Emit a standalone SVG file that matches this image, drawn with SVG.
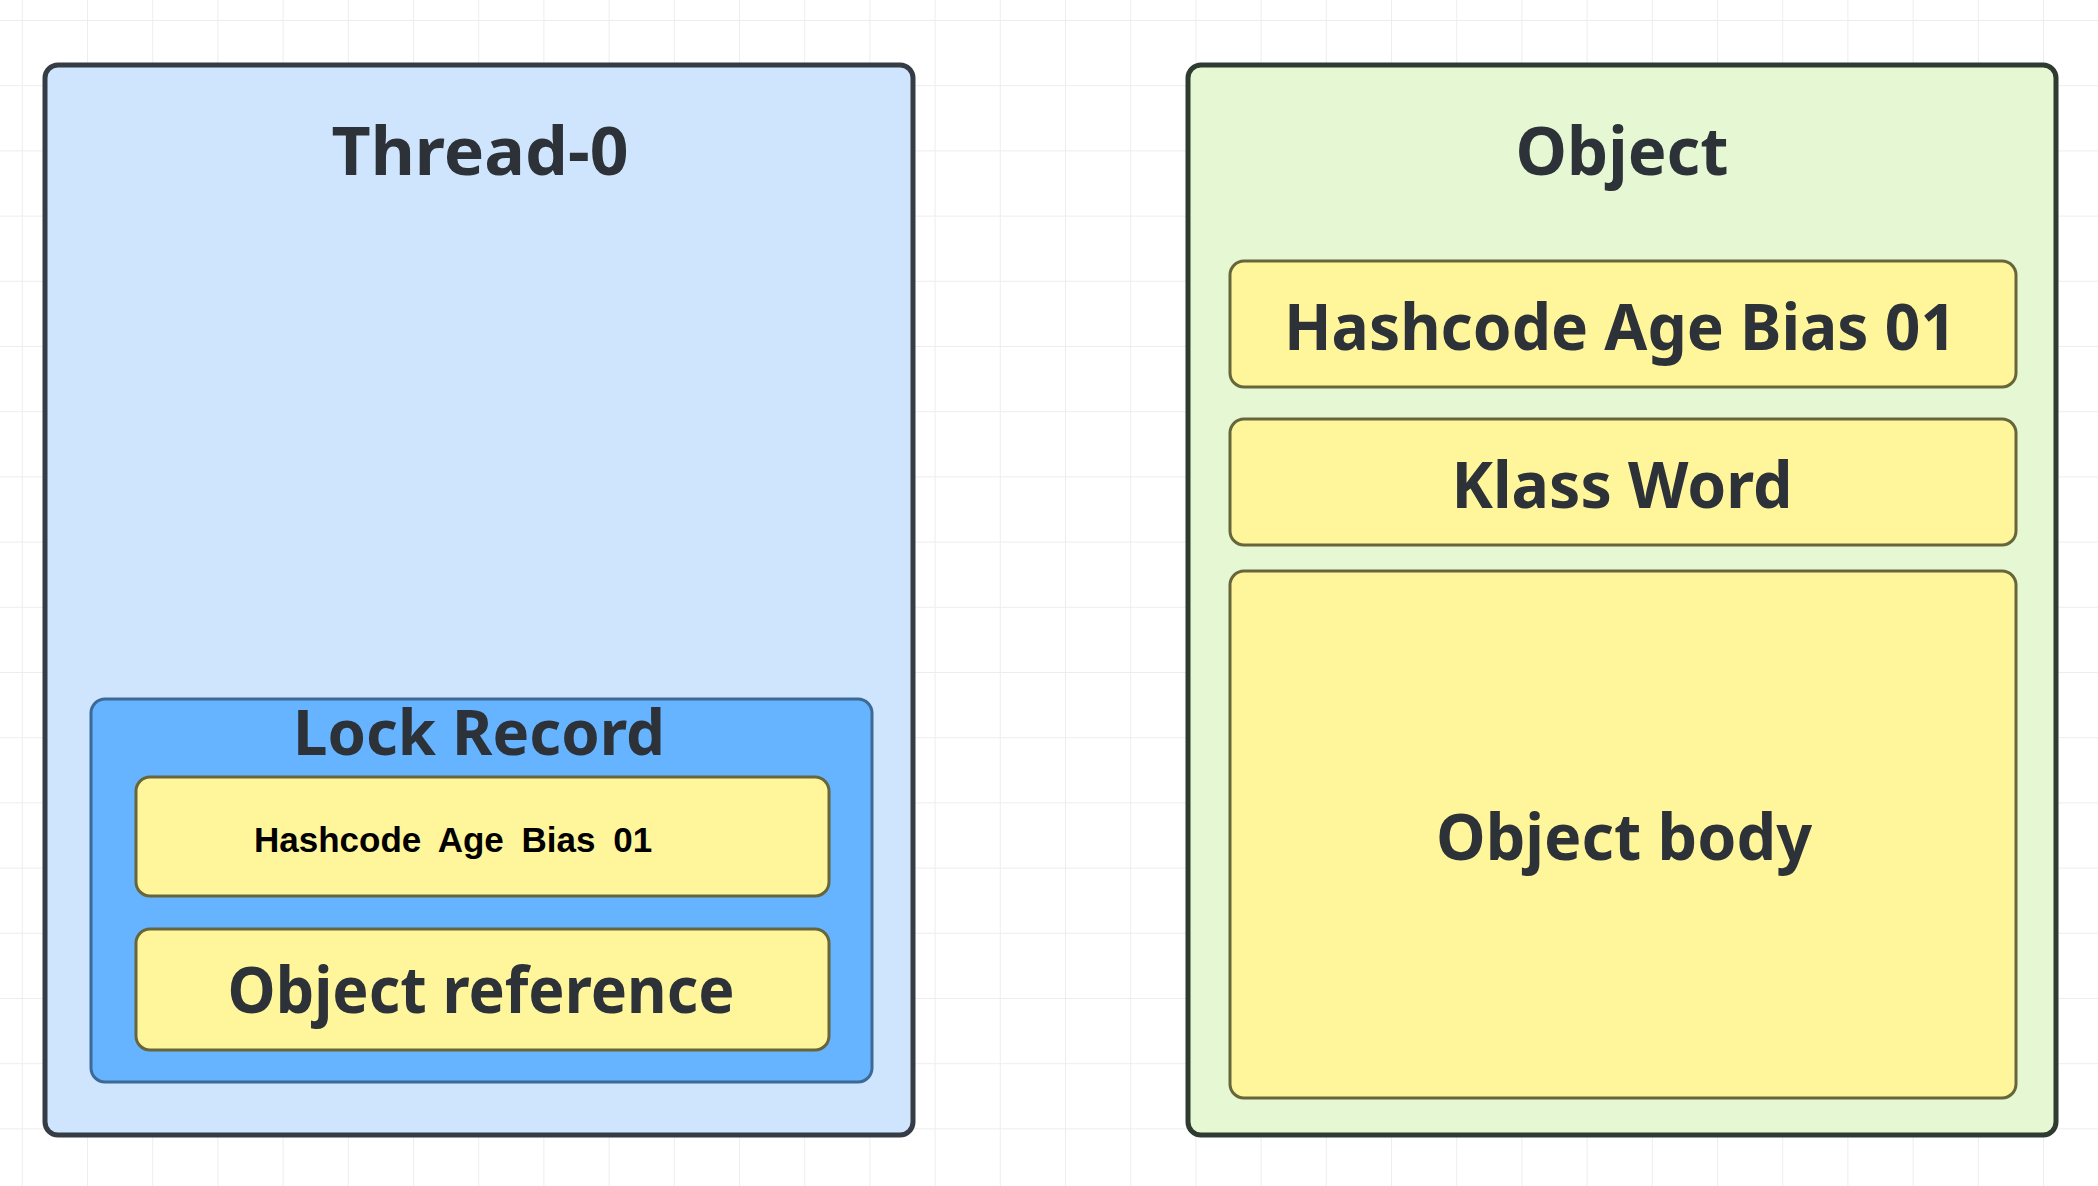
<svg xmlns="http://www.w3.org/2000/svg" width="2098" height="1186" viewBox="0 0 2098 1186">
  <defs>
    <pattern id="grid" x="21.8" y="20" width="65.2" height="65.2" patternUnits="userSpaceOnUse">
      <path d="M0 0 H65.2 M0 0 V65.2" fill="none" stroke="#ededed" stroke-width="2"/>
    </pattern>
    <style>
      .outer { stroke-width: 5; }
      .thread { fill: #cfe5fd; stroke: #353c45; }
      .object { fill: #e6f7d3; stroke: #2f3a30; }
      .lock { fill: #66b3ff; stroke: #3c6a96; stroke-width: 3; }
      .cell { fill: #fff69c; stroke: #66663a; stroke-width: 3; }
      .lbl { font-family: "Noto Sans", "Open Sans", "DejaVu Sans", sans-serif; font-weight: bold; fill: #2c3238; text-anchor: middle; }
      .small { font-family: "Liberation Sans", Arial, sans-serif; font-weight: bold; font-size: 35px; fill: #000000; word-spacing: 8px; }
    </style>
  </defs>
  <rect x="0" y="0" width="2098" height="1186" fill="#ffffff"/>
  <rect x="0" y="0" width="2098" height="1186" fill="url(#grid)"/>

  <g id="thread-0">
    <rect class="outer thread" x="45" y="65" width="868" height="1070" rx="13"/>
    <text class="lbl" x="480" y="175" font-size="66" textLength="297" lengthAdjust="spacingAndGlyphs">Thread-0</text>
  </g>

  <g id="lock-record">
    <rect class="lock" x="91" y="699" width="781" height="383" rx="14"/>
    <text class="lbl" x="479" y="755" font-size="62" textLength="372" lengthAdjust="spacingAndGlyphs">Lock Record</text>
  </g>

  <g id="lock-mark-word">
    <rect class="cell" x="136" y="777" width="693" height="119" rx="14"/>
    <text class="small" x="254" y="852">Hashcode Age Bias 01</text>
  </g>

  <g id="object-reference">
    <rect class="cell" x="136" y="929" width="693" height="121" rx="14"/>
    <text class="lbl" x="481" y="1013" font-size="64" textLength="507" lengthAdjust="spacingAndGlyphs">Object reference</text>
  </g>

  <g id="object">
    <rect class="outer object" x="1188" y="65" width="868" height="1070" rx="13"/>
    <text class="lbl" x="1622" y="175" font-size="66" textLength="213" lengthAdjust="spacingAndGlyphs">Object</text>
  </g>

  <g id="object-mark-word">
    <rect class="cell" x="1230" y="261" width="786" height="126" rx="14"/>
    <text class="lbl" x="1620" y="350" font-size="64" textLength="672" lengthAdjust="spacingAndGlyphs">Hashcode Age Bias 01</text>
  </g>

  <g id="klass-word">
    <rect class="cell" x="1230" y="419" width="786" height="126" rx="14"/>
    <text class="lbl" x="1622" y="508" font-size="64" textLength="341" lengthAdjust="spacingAndGlyphs">Klass Word</text>
  </g>

  <g id="object-body">
    <rect class="cell" x="1230" y="571" width="786" height="527" rx="14"/>
    <text class="lbl" x="1624" y="860" font-size="64" textLength="376" lengthAdjust="spacingAndGlyphs">Object body</text>
  </g>

  <g id="connectors"></g>
</svg>
